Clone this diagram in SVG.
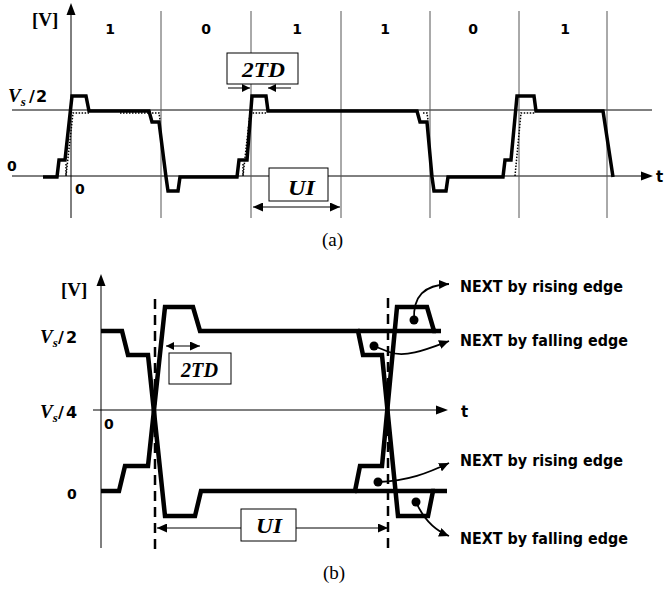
<svg xmlns="http://www.w3.org/2000/svg" width="664" height="591" viewBox="0 0 664 591">
<style>
.thin{stroke:#000;stroke-width:1;fill:none}
.grid{stroke:#555;stroke-width:1;fill:none}
.wave{stroke:#000;stroke-width:3.5;fill:none;stroke-linejoin:miter}
.waveb{stroke:#000;stroke-width:4.5;fill:none;stroke-linejoin:miter}
.dot{stroke:#000;stroke-width:1.5;fill:none;stroke-dasharray:1.5 1.5}
.dash{stroke:#000;stroke-width:2.5;fill:none;stroke-dasharray:10 6}
.box{fill:#fff;stroke:#000;stroke-width:1}
.lead{stroke:#000;stroke-width:1.8;fill:none}
.sb{font-family:"DejaVu Sans",Verdana,sans-serif;font-weight:bold}
.serb{font-family:"Liberation Serif","Times New Roman",serif;font-weight:bold}
.sbi{font-family:"Liberation Serif","Times New Roman",serif;font-weight:bold;font-style:italic}
.ser{font-family:"Liberation Serif","Times New Roman",serif}
</style>
<defs>
<marker id="ah" markerUnits="userSpaceOnUse" markerWidth="11" markerHeight="9" refX="10" refY="4.5" orient="auto-start-reverse">
<path d="M0,0 L10,4.5 L0,9 z" fill="#000"/>
</marker>
<marker id="ahs" markerUnits="userSpaceOnUse" markerWidth="9" markerHeight="8" refX="8" refY="4" orient="auto-start-reverse">
<path d="M0,0 L8,4 L0,8 z" fill="#000"/>
</marker>
</defs>

<!-- ===== (a) ===== -->
<g id="axes-a">
<line class="thin" x1="71" y1="14" x2="71" y2="218"/>
<path d="M71,3 L75.5,15 L66.5,15 z" fill="#000"/>
<line class="thin" x1="12" y1="110" x2="652" y2="110"/>
<line class="thin" x1="12" y1="176" x2="643" y2="176"/>
<path d="M653,176 L641,171.5 L641,180.5 z" fill="#000"/>
<text class="serb" x="32" y="26" font-size="19">[V]</text>
<text class="sb" x="656" y="182" font-size="15">t</text>
<text class="sb" x="7" y="171" font-size="14">0</text>
<text class="sb" x="75" y="194" font-size="14">0</text>
<text x="8" y="102"><tspan class="sbi" font-size="19">V</tspan><tspan class="sbi" font-size="13" dy="4">s</tspan><tspan class="sb" font-size="16" x="29" dy="-4">/</tspan><tspan class="sb" font-size="16" x="36">2</tspan></text>
</g>
<g id="grid-a">
<line class="grid" x1="161" y1="11" x2="161" y2="218"/>
<line class="grid" x1="251" y1="11" x2="251" y2="218"/>
<line class="grid" x1="341" y1="11" x2="341" y2="218"/>
<line class="grid" x1="430" y1="11" x2="430" y2="218"/>
<line class="grid" x1="519" y1="11" x2="519" y2="218"/>
<line class="grid" x1="607" y1="11" x2="607" y2="218"/>
</g>
<g id="bits-a" class="sb" font-size="14" text-anchor="middle">
<text x="110" y="34">1</text>
<text x="206" y="34">0</text>
<text x="297" y="34">1</text>
<text x="385" y="34">1</text>
<text x="473" y="34">0</text>
<text x="565" y="34">1</text>
</g>
<g id="ideal-a">
<path class="dot" d="M66,164 L66,176 M66,176 L73,113 L89,113"/>
<path class="dot" d="M152,113 L159,113 L160,120"/>
<path class="dot" d="M243,164 L243,176 M243,176 L250,113 L266,113"/>
<path class="dot" d="M423,113 L427,113 L428,120"/>
<path class="dot" d="M515,176 L521,113 L535,113"/>
<path class="dot" d="M120,113 L148,113"/>
</g>
<g id="wave-a">
<path class="wave" d="M43,177 L57,177 L59,160 L65,160 L72,96 L86,96 L89,111 L149,111 L152,122 L159,122 L166,177 L168,191 L178,191 L180,177 L237,177 L239,160 L247,160 L252,96 L266,96 L268,111 L417,111 L420,122 L427,122 L432,177 L434,191 L446,191 L448,177 L503,177 L505,160 L511,160 L517,96 L534,96 L536,111 L603,111 L613,177"/>
</g>
<g id="td-a">
<rect class="box" x="227" y="53" width="71" height="31"/>
<text class="sbi" x="242" y="77" font-size="21" textLength="43" lengthAdjust="spacingAndGlyphs">2TD</text>
<line class="thin" x1="228" y1="88" x2="250" y2="88" marker-end="url(#ahs)"/>
<line class="thin" x1="291" y1="88" x2="268" y2="88" marker-end="url(#ahs)"/>
</g>
<g id="ui-a">
<rect class="box" x="269" y="168" width="59" height="33"/>
<text class="sbi" x="288" y="195" font-size="20" textLength="27" lengthAdjust="spacingAndGlyphs">UI</text>
<line class="thin" x1="253" y1="207" x2="340" y2="207" marker-start="url(#ah)" marker-end="url(#ah)"/>
</g>
<text class="ser" x="322" y="246" font-size="19">(a)</text>

<!-- ===== (b) ===== -->
<g id="axes-b">
<line class="thin" x1="101" y1="285" x2="101" y2="548"/>
<path d="M101,274 L105.5,286 L96.5,286 z" fill="#000"/>
<line class="thin" x1="93" y1="410" x2="438" y2="410"/>
<path d="M448,410 L436,405.5 L436,414.5 z" fill="#000"/>
<text class="serb" x="61" y="296" font-size="19">[V]</text>
<text class="sb" x="461" y="417" font-size="15">t</text>
<text class="sb" x="104" y="429" font-size="14">0</text>
<text class="sb" x="67" y="499" font-size="14">0</text>
<text x="40" y="343"><tspan class="sbi" font-size="19">V</tspan><tspan class="sbi" font-size="13" dy="4">s</tspan><tspan class="sb" font-size="16" x="58" dy="-4">/</tspan><tspan class="sb" font-size="16" x="66">2</tspan></text>
<text x="40" y="418"><tspan class="sbi" font-size="19">V</tspan><tspan class="sbi" font-size="13" dy="4">s</tspan><tspan class="sb" font-size="16" x="58" dy="-4">/</tspan><tspan class="sb" font-size="16" x="66">4</tspan></text>
</g>
<g id="dashes-b">
<line class="dash" x1="155" y1="299" x2="155" y2="550"/>
<line class="dash" x1="388" y1="298" x2="388" y2="550"/>
</g>
<g id="wave-b">
<path class="waveb" d="M101,331 L122,331 L128,355 L148,355 L165,516 L195,516 L201,491 L355,491 L360,466 L382,466 L397,307 L427,307 L434,331 L441,331"/>
<path class="waveb" d="M101,491 L119,491 L125,466 L148,466 L165,307 L193,307 L200,331 L358,331 L363,355 L382,355 L398,516 L428,516 L433,491 L447,491"/>
<path class="waveb" d="M358,331 L436,331 M355,491 L435,491"/>
</g>
<g id="td-b">
<rect class="box" x="169" y="353" width="62" height="31"/>
<text class="sbi" x="181" y="377" font-size="20" textLength="37" lengthAdjust="spacingAndGlyphs">2TD</text>
<line class="thin" x1="166" y1="346" x2="200" y2="346" marker-start="url(#ahs)" marker-end="url(#ah)"/>
</g>
<g id="ui-b">
<line class="thin" x1="157" y1="528" x2="388" y2="528" marker-start="url(#ah)" marker-end="url(#ah)"/>
<rect class="box" x="241" y="509" width="55" height="32"/>
<text class="sbi" x="256" y="533" font-size="20" textLength="26" lengthAdjust="spacingAndGlyphs">UI</text>
</g>
<g id="next-rise-top">
<circle cx="414" cy="320" r="4.5"/>
<path class="lead" d="M414,320 C413,296 424,285 449,284" marker-end="url(#ah)"/>
<text class="sb" x="460" y="292" font-size="15" textLength="163" lengthAdjust="spacingAndGlyphs">NEXT by rising edge</text>
</g>
<g id="next-fall-top">
<circle cx="374" cy="346" r="4.5"/>
<path class="lead" d="M374,346 L389,352 C405,358 425,350 449,341" marker-end="url(#ah)"/>
<text class="sb" x="460" y="346" font-size="15" textLength="168" lengthAdjust="spacingAndGlyphs">NEXT by falling edge</text>
</g>
<g id="next-rise-bot">
<circle cx="378" cy="482" r="4.5"/>
<path class="lead" d="M378,482 C408,481 428,473 449,463" marker-end="url(#ah)"/>
<text class="sb" x="460" y="466" font-size="15" textLength="163" lengthAdjust="spacingAndGlyphs">NEXT by rising edge</text>
</g>
<g id="next-fall-bot">
<circle cx="416" cy="502" r="4.5"/>
<path class="lead" d="M416,502 C424,520 434,530 449,536" marker-end="url(#ah)"/>
<text class="sb" x="460" y="544" font-size="15" textLength="168" lengthAdjust="spacingAndGlyphs">NEXT by falling edge</text>
</g>
<text class="ser" x="323" y="579" font-size="19">(b)</text>
</svg>
